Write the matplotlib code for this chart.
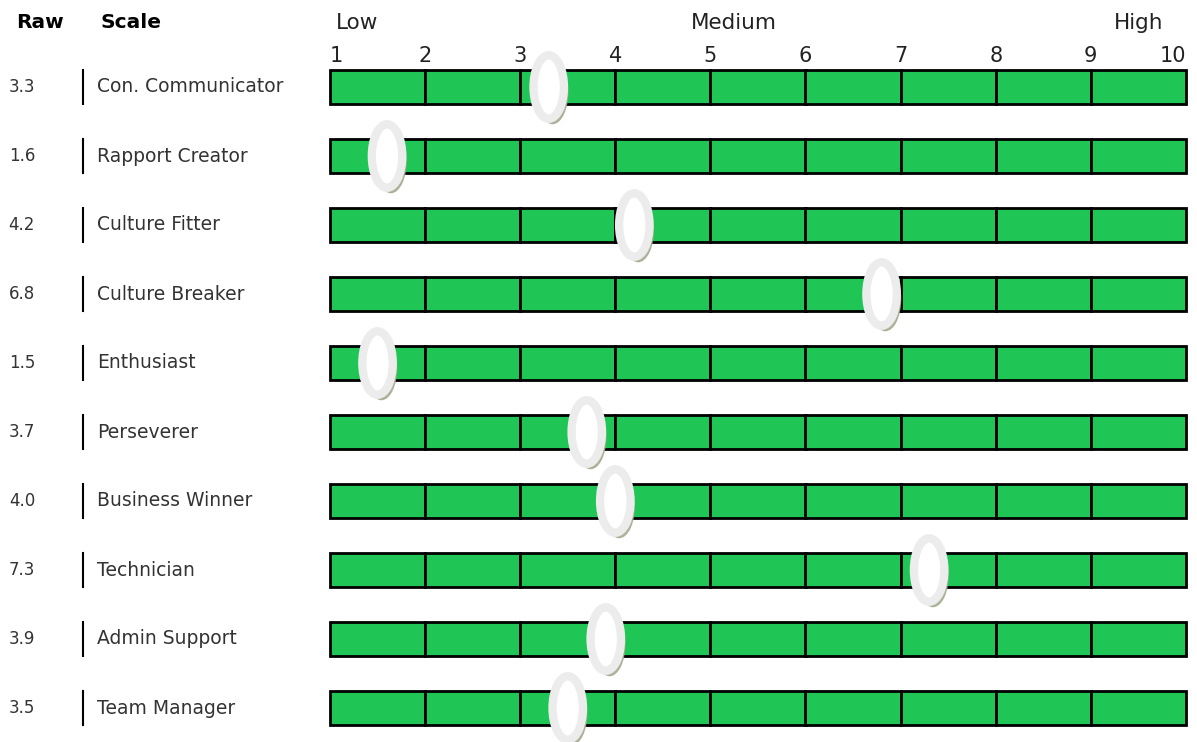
import matplotlib.pyplot as plt
from matplotlib.patches import Ellipse

# Werte aus dem Bild
skalen = ["Con. Communicator", "Rapport Creator", "Culture Fitter", "Culture Breaker",
          "Enthusiast", "Perseverer", "Business Winner", "Technician",
          "Admin Support", "Team Manager"]
rohwerte = [3.3, 1.6, 4.2, 6.8, 1.5, 3.7, 4.0, 7.3, 3.9, 3.5]
stufen = ["Low", "Medium", "High"]
stufen_pos = [1.28, 5.25, 9.5]
ticks = list(range(1, 11))

plt.rcParams['font.family'] = ['DejaVu Sans']
GRUEN = "#20c655"

fig = plt.figure(figsize=(11.97, 7.42), dpi=100)
ax = fig.add_axes([0, 0, 1, 1])
ax.set_xlim(1 - 330 / 95.1, 1 + 867 / 95.1)
ax.set_ylim((742 - 87) / 69, -87 / 69)
ax.axis("off")

# Kopfzeile
ax.text(-2.3, -0.93, "Raw", fontsize=14.5, fontweight="bold", va="center", ha="left")
ax.text(-1.41, -0.93, "Scale", fontsize=14.5, fontweight="bold", va="center", ha="left")
for s, p in zip(stufen, stufen_pos):
    ax.text(p, -0.93, s, fontsize=15.5, color="#222222", va="center", ha="center")
for t in ticks:
    ha = "left" if t == 1 else ("right" if t == 10 else "center")
    ax.text(t, -0.45, str(t), fontsize=15, color="#222222", va="center", ha=ha)

for i, (name, wert) in enumerate(zip(skalen, rohwerte)):
    # Balken mit 9 Zellen
    ax.barh([i] * 9, [1] * 9, left=ticks[:-1], height=0.49,
            color=GRUEN, edgecolor="black", linewidth=2, zorder=2)
    ax.text(-2.24, i, f"{wert:.1f}", fontsize=12, color="#333333", va="center", ha="center")
    ax.plot([-1.6, -1.6], [i - 0.25, i + 0.25], color="black", lw=1.5)
    ax.text(-1.45, i, name, fontsize=13.5, color="#333333", va="center", ha="left")
    # Marker (Oval mit Schatten)
    ax.add_patch(Ellipse((wert + 0.04, i + 0.07), 0.32, 0.92, color="#a3ab8e", alpha=0.85, zorder=3))
    ax.add_patch(Ellipse((wert, i), 0.32, 0.92, facecolor="#ffffff",
                         edgecolor="#ececec", linewidth=6, zorder=4))

plt.savefig("out.png", dpi=100)
